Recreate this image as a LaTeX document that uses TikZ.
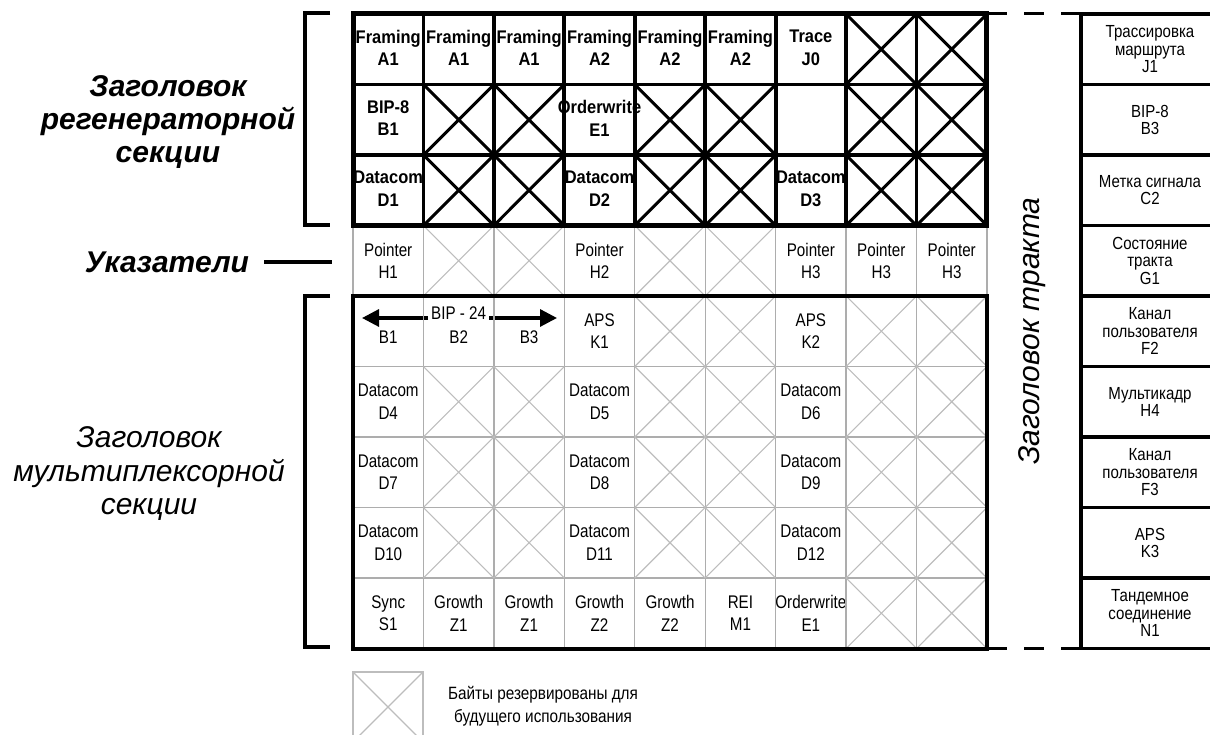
\documentclass[tikz,border=0pt]{standalone}
\usepackage{fontspec}
\setmainfont{Liberation Sans}
\newfontfamily\condrm{Liberation Sans}[FakeStretch=0.83]
\newfontfamily\condbf{Liberation Sans}[FakeStretch=0.90]
\newfontfamily\rcolfont{Liberation Sans}[FakeStretch=0.86]
\newfontfamily\legfont{Liberation Sans}[FakeStretch=0.86]
\usetikzlibrary{arrows.meta}
\definecolor{gridgray}{gray}{0.68}
\definecolor{xgray}{gray}{0.74}
\tikzset{
  cellr/.style={font=\condrm\fontsize{18.3}{22.5}\selectfont, align=center, inner sep=0pt},
  cellb/.style={font=\condbf\bfseries\fontsize{18.3}{22.5}\selectfont, align=center, inner sep=0pt},
  rcol/.style={font=\rcolfont\fontsize{17.5}{17.5}\selectfont, align=center, inner sep=0pt},
  legendtext/.style={font=\legfont\fontsize{17.8}{23}\selectfont, align=center, inner sep=0pt},
  biglabel/.style={font=\bfseries\itshape\fontsize{30}{33}\selectfont, align=center, inner sep=0pt},
  midlabel/.style={font=\itshape\fontsize{30}{33.5}\selectfont, align=center, inner sep=0pt},
  graygrid/.style={draw=gridgray, line width=1.3pt},
  grayx/.style={draw=xgray, line width=1.1pt},
  blackx/.style={draw=black, line width=3pt},
  topgrid/.style={draw=black, line width=3.8pt},
  topframe/.style={draw=black, line width=5pt, line join=miter},
  msframe/.style={draw=black, line width=4pt, line join=miter},
  bracket/.style={draw=black, line width=3.5pt, line join=miter},
  rbox/.style={draw=black, line width=3.6pt},
  dashline/.style={draw=black, line width=3pt, dash pattern=on 20pt off 17pt},
  bigarrow/.style={draw=black, line width=3.2pt, -{Triangle[length=17pt,width=17pt]}}
}
\begin{document}
\begin{tikzpicture}[x=1pt,y=-1pt]
\useasboundingbox (0,0) rectangle (1210,735);
\clip (0,0) rectangle (1210,735);

% ---------- main grid ----------
\begin{scope}[shift={(353pt,-14pt)}, x=70.44pt, y=-70.5pt]
  % bold labels of the regenerator section
  \foreach \c/\r/\t in {1/1/{Framing\\A1}, 2/1/{Framing\\A1}, 3/1/{Framing\\A1},
      4/1/{Framing\\A2}, 5/1/{Framing\\A2}, 6/1/{Framing\\A2}, 7/1/{Trace\\J0},
      1/2/{BIP-8\\B1}, 4/2/{Orderwrite\\E1},
      1/3/{Datacom\\D1}, 4/3/{Datacom\\D2}, 7/3/{Datacom\\D3}}
    \node[cellb] (b\c-\r) at (\c-0.5,\r-0.52) {\t};
  % regular labels
  \foreach \c/\r/\t in {1/4/{Pointer\\H1}, 4/4/{Pointer\\H2}, 7/4/{Pointer\\H3},
      8/4/{Pointer\\H3}, 9/4/{Pointer\\H3},
      4/5/{APS\\K1}, 7/5/{APS\\K2},
      1/6/{Datacom\\D4}, 4/6/{Datacom\\D5}, 7/6/{Datacom\\D6},
      1/7/{Datacom\\D7}, 4/7/{Datacom\\D8}, 7/7/{Datacom\\D9},
      1/8/{Datacom\\D10}, 4/8/{Datacom\\D11}, 7/8/{Datacom\\D12},
      1/9/{Sync\\S1}, 2/9/{Growth\\Z1}, 3/9/{Growth\\Z1}, 4/9/{Growth\\Z2},
      5/9/{Growth\\Z2}, 6/9/{REI\\M1}, 7/9/{Orderwrite\\E1}}
    \node[cellr] (n\c-\r) at (\c-0.5,\r-0.5) {\t};
  % BIP-24 row
  \node[cellr] (bB1) at (0.5,4.582) {B1};
  \node[cellr] (bB2) at (1.5,4.582) {B2};
  \node[cellr] (bB3) at (2.5,4.582) {B3};
  \node[cellr, inner xsep=3pt] (bip) at (1.5,4.248) {BIP - 24};
  \coordinate (tipL) at (0.128,4.312);
  \coordinate (tipR) at (2.896,4.312);
  \draw[bigarrow] (bip.west |- tipL) -- (tipL);
  \draw[bigarrow] (bip.east |- tipR) -- (tipR);

  % gray grid of pointer and multiplex sections
  \draw[graygrid] (0,3) -- (0,4) (9,3) -- (9,4);
  \foreach \k in {1,...,8} \draw[graygrid] (\k,3) -- (\k,9);
  \foreach \k in {4,...,8} \draw[graygrid] (0,\k) -- (9,\k);
  \foreach \c/\r in {2/4,3/4,5/4,6/4,
      5/5,6/5,8/5,9/5,
      2/6,3/6,5/6,6/6,8/6,9/6,
      2/7,3/7,5/7,6/7,8/7,9/7,
      2/8,3/8,5/8,6/8,8/8,9/8,
      8/9,9/9}
    \draw[grayx] (\c-1,\r-1) -- (\c,\r) (\c,\r-1) -- (\c-1,\r);

  % black crosses of the regenerator section
  \foreach \c/\r in {8/1,9/1,
      2/2,3/2,5/2,6/2,8/2,9/2,
      2/3,3/3,5/3,6/3,8/3,9/3}
    \draw[blackx] (\c-1,\r-1) -- (\c,\r) (\c,\r-1) -- (\c-1,\r);
  \foreach \k in {1,...,8} \draw[topgrid] (\k,0) -- (\k,3);
  \draw[topgrid] (0,1) -- (9,1) (0,2) -- (9,2);
  \draw[topframe] (0,0) rectangle (9,3);
  \draw[msframe] (0,4) rectangle (9,9);
\end{scope}

% ---------- dashed connections ----------
\draw[dashline] (987,14) -- (1081,14);
\draw[dashline] (987,648.5) -- (1081,648.5);

% ---------- right column (path overhead) ----------
\begin{scope}[shift={(1081pt,-14pt)}, x=138pt, y=-70.5pt]
  \draw[rbox] (0,0) -- (0,9);
  \foreach \k in {0,...,9} \draw[rbox] (0,\k) -- (1.2,\k);
  \foreach \r/\t in {1/{Трассировка\\маршрута\\J1}, 2/{BIP-8\\B3},
      3/{Метка сигнала\\C2}, 4/{Состояние\\тракта\\G1},
      5/{Канал\\пользователя\\F2}, 6/{Мультикадр\\H4},
      7/{Канал\\пользователя\\F3}, 8/{APS\\K3},
      9/{Тандемное\\соединение\\N1}}
    \node[rcol] (r\r) at (0.5,\r-0.5) {\t};
\end{scope}

\node[midlabel, rotate=90] (pathlabel) at (1032,331) {Заголовок тракта};

% ---------- left labels and brackets ----------
\node[biglabel] (rslabel) at (168,122) {Заголовок\\регенераторной\\секции};
\node[biglabel] (ptrlabel) at (167,262) {Указатели};
\coordinate (ptrend) at (332,262);
\draw[bracket] ([xshift=15pt]ptrlabel.east) -- (ptrend);
\node[midlabel] (mslabel) at (149,474) {Заголовок\\мультиплексорной\\секции};
\draw[bracket] (330,13) -- (305,13) -- (305,225) -- (330,225);
\draw[bracket] (330,296) -- (305,296) -- (305,647) -- (330,647);

% ---------- legend ----------
\draw[grayx] (353,672) rectangle (423,742);
\draw[grayx] (353,672) -- (423,742) (423,672) -- (353,742);
\node[legendtext] (legend) at (543,706.5) {Байты резервированы для\\будущего использования};
\end{tikzpicture}
\end{document}
